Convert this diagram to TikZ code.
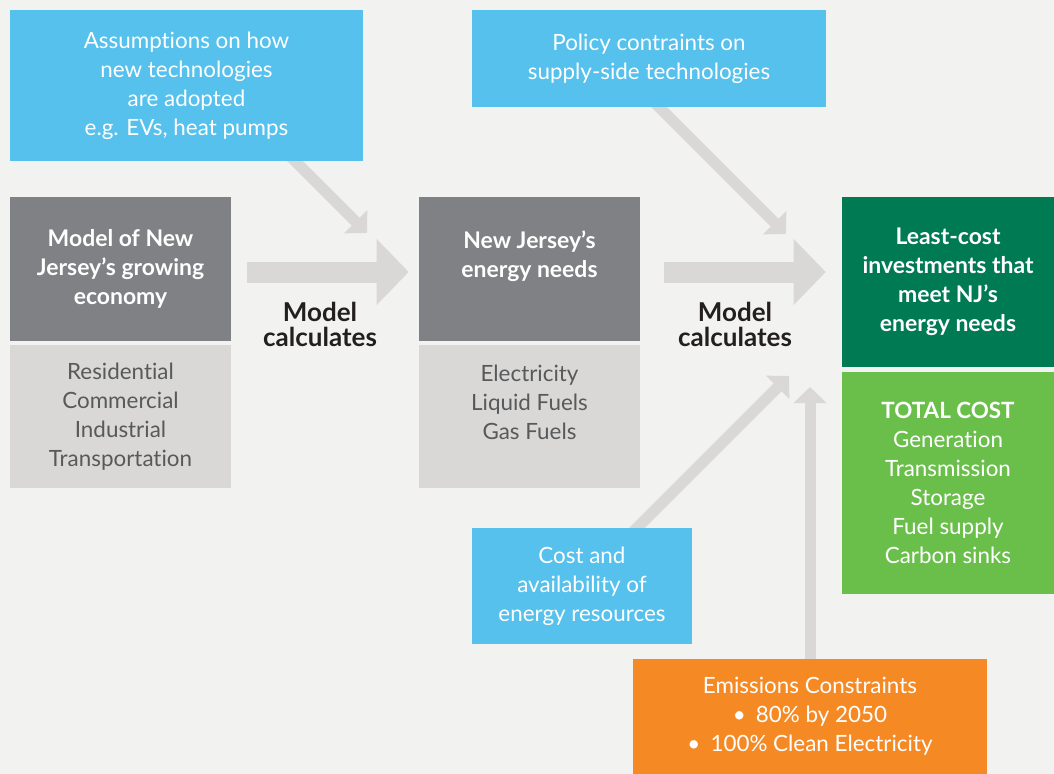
\documentclass[tikz,border=0pt]{standalone}
\usepackage{fontspec}
\setmainfont{Lato}[Ligatures=CommonOff]
\usetikzlibrary{arrows.meta,backgrounds,calc}
\definecolor{pagebg}{HTML}{F2F2F1}
\definecolor{skyblue}{HTML}{55C1EC}
\definecolor{slate}{HTML}{808184}
\definecolor{pebble}{HTML}{D9D8D6}
\definecolor{forest}{HTML}{007A53}
\definecolor{leaf}{HTML}{6ABF4B}
\definecolor{tangerine}{HTML}{F58A24}
\definecolor{inkgray}{HTML}{58595B}
\definecolor{ink}{HTML}{231F20}
\tikzset{
  box/.style={inner sep=0pt, align=center, font=\fontsize{16.8}{21.75}\selectfont},
  boldbox/.style={box, font=\bfseries\fontsize{17.2}{21.75}\selectfont},
  headbox/.style={boldbox, fill=slate, text=white, minimum width=165.75pt, minimum height=108pt},
  listbox/.style={box, fill=pebble, text=inkgray, minimum width=165.75pt, minimum height=107.25pt},
  inputbox/.style={box, fill=skyblue, text=white},
  calc label/.style={align=center, text=ink, font=\bfseries\fontsize{19.5}{18.75}\selectfont},
  bigarrow/.style={draw=pebble, line width=15.75pt, -{Triangle[length=24pt,width=48pt]}},
  thinarrow/.style={draw=pebble, line width=8.25pt, -{Triangle[length=12pt,width=24pt]}}
}
\begin{document}
\begin{tikzpicture}[x=0.75pt, y=-0.75pt]
  \useasboundingbox (0,0) rectangle (1054,774);
  % inputs
  \node[inputbox, minimum width=264.75pt, minimum height=113.25pt] (assume) at (186.5,85.5)
    {Assumptions on how\\new technologies\\are adopted\\e.g. EVs, heat pumps};
  \node[inputbox, minimum width=265.5pt, minimum height=72.75pt] (policy) at (649,58.5)
    {Policy contraints on\\supply-side technologies};
  \node[inputbox, minimum width=165pt, minimum height=87pt] (cost) at (582,586)
    {Cost and\\availability of\\energy resources};
  \node[box, fill=tangerine, text=white, minimum width=265.5pt, minimum height=86.25pt] (emis) at (810,716.5)
    {Emissions Constraints\\•\hspace{0.45em}80\% by 2050\\•\hspace{0.45em}100\% Clean Electricity};
  % model stages
  \node[headbox] (eco) at (120.5,269) {Model of New\\Jersey’s growing\\economy};
  \node[listbox] (ecolist) at (120.5,416.5) {Residential\\Commercial\\Industrial\\Transportation};
  \node[headbox] (needs) at (529.5,269) {New Jersey’s\\energy needs\\\mbox{}};
  \node[listbox] (needslist) at (529.5,416.5) {Electricity\\Liquid Fuels\\Gas Fuels\\\mbox{}};
  \node[boldbox, fill=forest, text=white, minimum width=159pt, minimum height=127.5pt] (invest) at (948,282)
    {Least-cost\\investments that\\meet NJ’s\\energy needs};
  \node[box, fill=leaf, text=white, minimum width=159pt, minimum height=166.5pt] (total) at (948,483)
    {\textbf{TOTAL COST}\\Generation\\Transmission\\Storage\\Fuel supply\\Carbon sinks};
  \node[calc label] (calc1) at (320,324) {Model\\calculates};
  \node[calc label] (calc2) at (735,324) {Model\\calculates};
  \coordinate (t1) at (367,233);
  \coordinate (t2) at (786,234);
  \coordinate (t3) at (789,376);
  \coordinate (t4) at (810,387);
  \begin{pgfonlayer}{background}
    \fill[pagebg] (0,0) rectangle (1054,774);
    \draw[bigarrow, shorten <=12pt, shorten >=7.5pt] ([yshift=-2.25pt]eco.east) -- ([yshift=-2.25pt]needs.west);
    \draw[bigarrow, shorten <=18pt, shorten >=12pt] ([yshift=-2.25pt]needs.east) -- ([yshift=-2.25pt]needs.east -| invest.west);
    \draw[thinarrow] ($(t1)+(-100,-100)$) -- (t1);
    \draw[thinarrow] ($(t2)+(-150,-150)$) -- (t2);
    \draw[thinarrow] ($(t3)+(-190,190)$) -- (t3);
    \draw[thinarrow] (emis.north) -- (t4);
  \end{pgfonlayer}
\end{tikzpicture}
\end{document}
